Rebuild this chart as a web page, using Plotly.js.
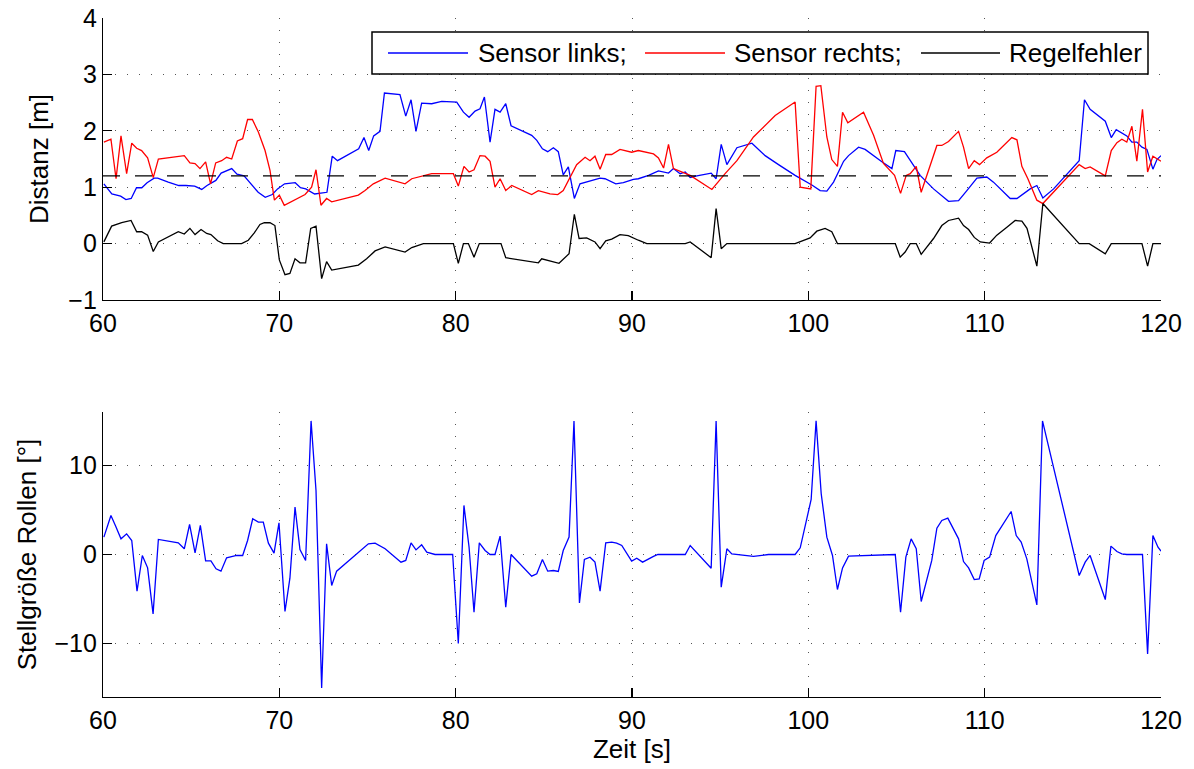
<!DOCTYPE html>
<html>
<head>
<meta charset="utf-8">
<script src="https://cdn.plot.ly/plotly-3.0.1.min.js"></script>
<style>
  html, body { margin: 0; padding: 0; background: #fff; }
  #chart { width: 1194px; height: 769px; }
</style>
</head>
<body>
<div id="chart"></div>
<script>
// ---------- data ----------
const seriesNames = ["Sensor links;", "Sensor rechts;", "Regelfehler"];
const sollwert = 1.2;
const sollT = [60, 120];

const tLinks = [60.05,60.5,61.0,61.3,61.6,61.9,62.2,62.5,62.9,63.1,63.7,64.3,64.7,65.2,65.6,65.9,66.4,66.7,67.3,67.6,68.0,68.3,68.8,69.2,69.6,69.9,70.3,70.9,71.2,71.5,72.0,72.7,73.0,73.3,74.5,74.8,75.07,75.35,75.71,75.96,76.84,77.17,77.47,77.75,78.07,78.64,79.21,80.06,80.44,80.76,81.1,81.38,81.63,81.95,82.23,82.52,82.84,83.14,83.74,84.31,84.6,84.92,85.22,85.54,85.82,86.1,86.39,86.73,87.05,87.43,88.19,88.47,89.08,89.51,90.08,90.36,90.94,91.5,92.07,92.35,92.73,93.02,93.3,93.68,94.49,94.77,95.06,95.38,95.95,96.8,97.55,98.31,99.25,100.2,100.67,101.05,101.43,102.0,102.28,102.85,103.22,104.17,104.74,104.96,105.45,106.34,107.1,107.95,108.52,108.99,109.56,110.12,110.5,111.45,111.83,112.58,112.96,113.3,113.91,115.36,115.66,115.98,116.84,117.18,117.46,118.06,118.35,118.63,118.92,119.2,119.54,119.77,120.0];
const vLinks = [1.06,0.88,0.84,0.78,0.80,0.99,0.99,1.08,1.16,1.16,1.09,1.03,1.03,1.02,0.96,1.03,1.12,1.25,1.33,1.23,1.20,1.09,0.91,0.82,0.87,0.97,1.06,1.08,0.99,0.97,0.88,0.91,1.55,1.47,1.68,1.88,1.65,1.91,1.99,2.67,2.64,2.26,2.55,1.99,2.49,2.48,2.52,2.51,2.33,2.24,2.35,2.39,2.60,1.80,2.38,2.33,2.48,2.09,2.01,1.92,1.83,1.68,1.63,1.70,1.63,1.22,1.36,0.80,1.06,1.09,1.16,1.15,1.06,1.08,1.14,1.15,1.21,1.29,1.25,1.33,1.24,1.27,1.17,1.20,1.25,1.15,1.76,1.40,1.70,1.78,1.56,1.40,1.21,1.04,0.94,0.93,1.09,1.46,1.56,1.71,1.67,1.45,1.33,1.65,1.63,1.21,0.97,0.75,0.76,0.94,1.16,1.18,1.09,0.80,0.80,0.97,1.03,0.81,0.97,1.47,2.55,2.38,2.17,1.88,2.02,1.91,1.80,1.80,1.71,1.67,1.32,1.49,1.56];

const tRechts = [60.05,60.45,60.74,61.02,61.34,61.63,61.91,62.19,62.53,62.85,63.14,64.61,64.93,65.22,65.5,65.82,66.1,66.39,66.73,67.01,67.3,67.62,67.92,68.2,68.47,68.81,69.19,69.47,69.72,70.0,70.28,71.46,71.83,72.08,72.36,72.68,72.97,74.48,74.86,75.33,76.0,77.13,77.51,78.64,79.87,80.15,80.47,80.76,81.04,81.38,81.67,81.95,82.23,82.52,82.84,83.18,84.31,84.69,85.35,85.79,86.1,86.49,86.86,87.34,87.62,87.9,88.19,88.51,88.85,89.32,89.98,90.36,90.84,91.22,91.5,91.79,92.07,92.35,93.3,94.53,95.28,95.95,96.89,98.12,99.25,99.54,100.14,100.44,100.71,101.05,101.33,101.65,101.94,102.24,103.13,103.7,104.26,104.89,105.23,105.55,105.78,106.12,106.4,107.29,107.57,107.95,108.52,108.8,109.09,109.41,109.71,110.12,110.69,111.54,111.83,112.11,112.45,112.96,113.3,115.36,115.7,115.98,116.84,117.18,117.5,117.78,118.06,118.35,118.63,118.95,119.24,119.54,120.0];
const vRechts = [1.80,1.85,1.15,1.91,1.24,1.78,1.69,1.65,1.52,1.17,1.50,1.56,1.43,1.42,1.33,1.45,1.06,1.43,1.47,1.53,1.50,1.82,1.86,2.20,2.20,1.98,1.65,1.30,0.77,0.86,0.68,0.87,1.00,1.31,0.68,0.80,0.74,0.86,0.94,1.06,1.16,1.06,1.15,1.24,1.24,1.02,1.37,1.27,1.31,1.56,1.55,1.46,1.00,1.15,0.94,1.03,0.87,0.94,0.88,0.87,0.94,1.18,1.40,1.53,1.47,1.55,1.32,1.58,1.58,1.67,1.62,1.65,1.62,1.59,1.52,1.34,1.76,1.33,1.21,0.96,1.24,1.47,1.89,2.27,2.51,1.00,0.97,2.79,2.80,1.89,1.49,1.37,2.33,2.14,2.33,1.92,1.42,1.21,0.89,1.21,1.24,1.37,0.91,1.74,1.74,1.81,1.99,1.71,1.33,1.47,1.40,1.52,1.62,1.88,1.84,1.37,1.15,0.77,0.71,1.40,1.33,1.36,1.20,1.65,1.79,1.85,1.80,2.08,1.46,2.38,1.27,1.55,1.46];

const tFehler = [60.05,60.49,61.06,61.59,61.91,62.19,62.53,62.85,63.14,64.27,64.61,64.93,65.22,65.56,65.88,66.12,66.5,66.82,67.86,68.24,68.58,68.9,69.15,69.47,69.75,70.0,70.32,70.6,70.89,71.17,71.49,71.78,72.08,72.4,72.68,72.97,74.48,74.95,75.43,76.0,77.13,77.51,78.17,79.87,80.15,80.44,80.72,81.04,81.34,82.57,82.84,84.69,84.88,85.86,86.43,86.73,87.0,87.43,87.9,88.19,88.51,88.85,89.32,89.79,90.36,90.84,93.02,93.3,94.49,94.77,95.06,95.38,99.25,100.1,100.48,100.95,101.33,101.65,104.93,105.21,105.49,105.78,106.12,106.4,107.1,107.57,107.95,108.52,108.8,109.09,109.41,109.75,110.28,110.69,111.26,111.73,112.11,112.4,112.96,113.3,115.36,115.93,116.84,117.18,118.92,119.24,119.54,120.0];
const vFehler = [0.03,0.31,0.37,0.41,0.21,0.21,0.15,-0.14,0.03,0.21,0.17,0.27,0.16,0.25,0.18,0.16,0.05,0.0,0.0,0.06,0.19,0.34,0.37,0.37,0.32,-0.29,-0.55,-0.53,-0.27,-0.34,-0.34,0.27,0.31,-0.62,-0.32,-0.47,-0.38,-0.27,-0.13,-0.06,-0.15,-0.07,0.0,0.0,-0.35,0.0,0.0,-0.24,0.0,0.0,-0.25,-0.34,-0.27,-0.35,-0.18,0.52,0.09,0.10,0.03,-0.09,0.05,0.08,0.16,0.14,0.06,0.0,0.0,0.03,-0.25,0.62,-0.09,0.0,0.0,0.10,0.22,0.27,0.21,0.0,0.0,-0.24,-0.15,0.0,0.0,-0.19,0.09,0.32,0.41,0.45,0.32,0.25,0.11,0.03,0.01,0.15,0.29,0.41,0.40,0.27,-0.40,0.71,0.0,0.0,-0.18,0.0,0.0,-0.40,0.0,0.0];

const tStell = [60.05,60.45,60.72,61.02,61.34,61.63,61.93,62.23,62.53,62.84,63.14,64.27,64.61,64.91,65.22,65.52,65.82,66.12,66.41,66.69,67.01,67.58,67.92,68.2,68.49,68.81,69.09,69.38,69.7,69.98,70.32,70.6,70.89,71.17,71.49,71.8,72.08,72.4,72.68,72.97,73.25,75.05,75.43,76.0,76.9,77.17,77.47,77.75,78.07,78.36,78.83,79.83,80.15,80.47,80.76,81.04,81.34,81.67,81.95,82.23,82.52,82.84,83.14,84.31,84.6,84.92,85.22,85.54,85.82,86.1,86.43,86.71,87.02,87.3,87.62,87.9,88.19,88.51,88.85,89.13,89.42,89.98,90.27,90.6,91.22,91.47,93.02,93.3,94.49,94.77,95.06,95.38,95.66,96.89,97.74,99.25,99.54,100.16,100.44,100.73,101.05,101.37,101.65,101.94,102.28,104.93,105.23,105.53,105.83,106.12,106.4,107.0,107.29,107.57,107.91,108.52,108.8,109.09,109.41,109.69,109.97,110.28,110.63,111.5,111.79,112.07,112.39,112.96,113.28,115.36,115.7,115.98,116.84,117.16,117.5,117.78,118.06,118.95,119.24,119.54,119.83,120.0];
const vStell = [1.95,4.38,3.18,1.76,2.32,1.57,-4.12,-0.11,-1.50,-6.67,1.69,1.31,0.64,3.37,0.19,3.26,-0.71,-0.71,-1.61,-1.87,-0.37,-0.11,-0.11,1.57,4.01,3.63,3.63,1.27,0.15,3.56,-6.40,-2.66,5.32,0.56,-0.67,15.0,7.19,-15.0,1.20,-3.48,-1.87,1.20,1.27,0.64,-0.86,-0.67,1.31,0.52,1.09,0.26,0.0,0.0,-10.0,5.51,0.82,-6.48,1.31,0.45,0.0,0.0,2.06,-5.92,0.0,-2.43,-2.17,-0.56,-1.87,-1.80,-1.91,0.45,1.95,15.0,-5.43,-0.56,-0.30,-0.86,-4.12,1.31,1.39,1.27,1.01,-0.75,-0.41,-0.86,-0.22,0.0,0.0,1.01,-1.54,15.0,-3.67,0.64,0.07,-0.22,0.0,0.0,0.75,6.18,15.0,6.82,1.95,-0.11,-3.93,-1.50,-0.19,0.0,-6.48,-0.30,1.76,0.64,-5.28,-0.67,2.96,3.82,4.08,1.76,-0.79,-1.50,-2.81,-2.73,-0.67,-0.30,2.13,4.83,2.13,1.39,-0.49,-5.66,15.0,-2.36,-0.86,-0.11,-5.06,0.94,0.34,0.07,0.0,0.0,-11.16,2.13,0.82,0.37];

const xTicks = [60, 70, 80, 90, 100, 110, 120];
const yTicksTop = [-1, 0, 1, 2, 3, 4];
const yTicksBottom = [-10, 0, 10];
const colors = ["#0000ff", "#ff0000", "#000000"];

// ---------- layout helpers (pixel -> paper) ----------
const W = 1194, H = 769;
const L = 103, R = 1161, T = 18, B = 697;
const px = x => (x - L) / (R - L);
const py = y => (B - y) / (B - T);

const FONT = "Liberation Sans, Arial, sans-serif";
const FS = 25;
const FT = 26;

const traces = [
  {x: tLinks, y: vLinks, name: seriesNames[0], type: "scatter", mode: "lines",
   line: {color: colors[0], width: 1.3}, xaxis: "x", yaxis: "y", showlegend: false},
  {x: tRechts, y: vRechts, name: seriesNames[1], type: "scatter", mode: "lines",
   line: {color: colors[1], width: 1.3}, xaxis: "x", yaxis: "y", showlegend: false},
  {x: tFehler, y: vFehler, name: seriesNames[2], type: "scatter", mode: "lines",
   line: {color: colors[2], width: 1.3}, xaxis: "x", yaxis: "y", showlegend: false},
  {x: sollT, y: [sollwert, sollwert], name: "Sollwert", type: "scatter", mode: "lines",
   line: {color: "#000", width: 1.2, dash: "17px,15px"}, xaxis: "x", yaxis: "y", showlegend: false, hoverinfo: "skip"},
  {x: tStell, y: vStell, name: "Stellgröße Rollen", type: "scatter", mode: "lines",
   line: {color: colors[0], width: 1.3}, xaxis: "x2", yaxis: "y2", showlegend: false}
];

const axBase = {
  showline: true, linecolor: "#000", linewidth: 1.2,
  ticks: "inside", ticklen: 9, tickwidth: 1.2, tickcolor: "#000",
  showgrid: true, gridcolor: "#555", gridwidth: 1, griddash: "1px,11px",
  zeroline: false, mirror: false,
  tickfont: {family: FONT, size: FS, color: "#000"}
};

const layout = {
  width: W, height: H,
  margin: {l: L, r: W - R, t: T, b: H - B, pad: 0},
  paper_bgcolor: "#fff", plot_bgcolor: "#fff",
  font: {family: FONT, size: FS, color: "#000"},
  showlegend: false,
  xaxis: Object.assign({}, axBase, {
    domain: [0, 1], anchor: "y", range: [60, 120],
    tickvals: xTicks, ticktext: xTicks.map(String), ticklabelstandoff: 1
  }),
  yaxis: Object.assign({}, axBase, {
    domain: [py(300), 1], anchor: "x", range: [-1, 4],
    tickvals: yTicksTop, ticktext: yTicksTop.map(v => v < 0 ? "\u2212" + Math.abs(v) : String(v)),
    title: {text: "Distanz [m]", font: {family: FONT, size: FT}, standoff: 12}
  }),
  xaxis2: Object.assign({}, axBase, {
    domain: [0, 1], anchor: "y2", range: [60, 120],
    tickvals: xTicks, ticktext: xTicks.map(String), ticklabelstandoff: 1,
    title: {text: "Zeit [s]", font: {family: FONT, size: FT}, standoff: 4}
  }),
  yaxis2: Object.assign({}, axBase, {
    domain: [0, py(412)], anchor: "x2", range: [-16, 16],
    tickvals: yTicksBottom, ticktext: yTicksBottom.map(v => v < 0 ? "\u2212" + Math.abs(v) : String(v)),
    title: {text: "Stellgröße Rollen [°]", font: {family: FONT, size: FT}, standoff: 10}
  }),
  shapes: [
    {type: "rect", xref: "paper", yref: "paper", x0: px(372), x1: px(1148), y0: py(74), y1: py(32),
     line: {color: "#000", width: 1.5}, fillcolor: "#fff", layer: "above"},
    {type: "line", xref: "paper", yref: "paper", x0: px(388), x1: px(468), y0: py(53), y1: py(53),
     line: {color: colors[0], width: 1.3}, layer: "above"},
    {type: "line", xref: "paper", yref: "paper", x0: px(645), x1: px(725), y0: py(53), y1: py(53),
     line: {color: colors[1], width: 1.3}, layer: "above"},
    {type: "line", xref: "paper", yref: "paper", x0: px(921), x1: px(1000), y0: py(53), y1: py(53),
     line: {color: colors[2], width: 1.3}, layer: "above"}
  ],
  annotations: [
    {xref: "paper", yref: "paper", x: px(476), y: py(53), xanchor: "left", yanchor: "middle",
     text: seriesNames[0], showarrow: false, font: {family: FONT, size: FT, color: "#000"}},
    {xref: "paper", yref: "paper", x: px(732), y: py(53), xanchor: "left", yanchor: "middle",
     text: seriesNames[1], showarrow: false, font: {family: FONT, size: FT, color: "#000"}},
    {xref: "paper", yref: "paper", x: px(1007), y: py(53), xanchor: "left", yanchor: "middle",
     text: seriesNames[2], showarrow: false, font: {family: FONT, size: FT, color: "#000"}}
  ]
};

Plotly.newPlot("chart", traces, layout, {displayModeBar: false, staticPlot: true});
</script>
</body>
</html>
